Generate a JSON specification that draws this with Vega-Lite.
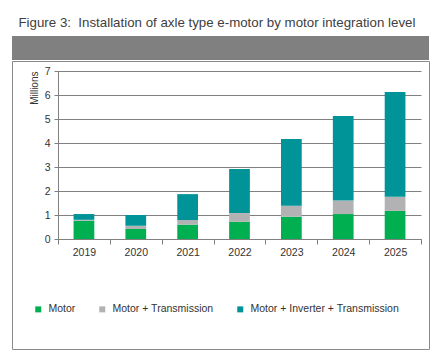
{
  "$schema": "https://vega.github.io/schema/vega-lite/v6.json",
  "padding": {"left": 11, "top": 15, "right": 0, "bottom": 0},
  "background": "white",
  "title": {
    "text": "Figure 3:\u00a0 Installation of axle type e-motor by motor integration level",
    "anchor": "start",
    "dx": 7,
    "offset": 7,
    "font": "Liberation Sans",
    "fontSize": 13.3,
    "fontWeight": "normal",
    "color": "#404040"
  },
  "spacing": 0,
  "vconcat": [
    {
      "width": 417,
      "height": 24,
      "view": {"fill": "#808080", "stroke": null},
      "data": {"values": [{}]},
      "mark": {"type": "point", "opacity": 0},
      "encoding": {}
    },
    {
      "width": 417,
      "height": 288,
      "view": {"fill": "white", "stroke": "#8a8a8a", "strokeWidth": 1},
      "data": {
        "values": [
          {"year": "2019", "type": "Motor", "rank": 0, "value": 0.76},
          {"year": "2019", "type": "Motor + Transmission", "rank": 1, "value": 0.04},
          {"year": "2019", "type": "Motor + Inverter + Transmission", "rank": 2, "value": 0.24},
          {"year": "2020", "type": "Motor", "rank": 0, "value": 0.42},
          {"year": "2020", "type": "Motor + Transmission", "rank": 1, "value": 0.13},
          {"year": "2020", "type": "Motor + Inverter + Transmission", "rank": 2, "value": 0.45},
          {"year": "2021", "type": "Motor", "rank": 0, "value": 0.6},
          {"year": "2021", "type": "Motor + Transmission", "rank": 1, "value": 0.19},
          {"year": "2021", "type": "Motor + Inverter + Transmission", "rank": 2, "value": 1.08},
          {"year": "2022", "type": "Motor", "rank": 0, "value": 0.72},
          {"year": "2022", "type": "Motor + Transmission", "rank": 1, "value": 0.36},
          {"year": "2022", "type": "Motor + Inverter + Transmission", "rank": 2, "value": 1.84},
          {"year": "2023", "type": "Motor", "rank": 0, "value": 0.93},
          {"year": "2023", "type": "Motor + Transmission", "rank": 1, "value": 0.46},
          {"year": "2023", "type": "Motor + Inverter + Transmission", "rank": 2, "value": 2.78},
          {"year": "2024", "type": "Motor", "rank": 0, "value": 1.04},
          {"year": "2024", "type": "Motor + Transmission", "rank": 1, "value": 0.56},
          {"year": "2024", "type": "Motor + Inverter + Transmission", "rank": 2, "value": 3.52},
          {"year": "2025", "type": "Motor", "rank": 0, "value": 1.17},
          {"year": "2025", "type": "Motor + Transmission", "rank": 1, "value": 0.59},
          {"year": "2025", "type": "Motor + Inverter + Transmission", "rank": 2, "value": 4.36}
        ]
      },
      "mark": {"type": "bar", "width": {"band": 0.4}},
      "encoding": {
        "x": {
          "field": "year",
          "type": "ordinal",
          "scale": {"range": [46, 409], "paddingInner": 0, "paddingOuter": 0},
          "axis": {
            "title": null,
            "offset": -110,
            "labelAngle": 0,
            "tickBand": "extent",
            "tickSize": 5,
            "labelPadding": 3,
            "domainColor": "#808080",
            "tickColor": "#808080",
            "labelFont": "Liberation Sans",
            "labelFontSize": 10.5,
            "labelColor": "#333333",
            "grid": false
          }
        },
        "y": {
          "field": "value",
          "type": "quantitative",
          "stack": "zero",
          "scale": {"domain": [0, 7], "range": [178, 10], "nice": false, "zero": true},
          "axis": {
            "title": "Millions",
            "titleAnchor": "end",
            "titleFont": "Liberation Sans",
            "titleFontSize": 10,
            "titleFontWeight": "normal",
            "titleColor": "#333333",
            "titlePadding": 5,
            "offset": -46,
            "values": [0, 1, 2, 3, 4, 5, 6, 7],
            "grid": true,
            "gridColor": "#808080",
            "gridWidth": 1,
            "domainColor": "#808080",
            "tickColor": "#808080",
            "tickSize": 4,
            "labelPadding": 4,
            "labelFont": "Liberation Sans",
            "labelFontSize": 10.5,
            "labelColor": "#333333"
          }
        },
        "color": {
          "field": "type",
          "type": "nominal",
          "scale": {
            "domain": ["Motor", "Motor + Transmission", "Motor + Inverter + Transmission"],
            "range": ["#00b050", "#b2b2b4", "#009499"]
          },
          "legend": {
            "title": null,
            "orient": "none",
            "direction": "horizontal",
            "legendX": 21,
            "legendY": 268,
            "symbolType": "square",
            "symbolSize": 36,
            "symbolStrokeWidth": 0,
            "labelFont": "Liberation Sans",
            "labelFontSize": 10.5,
            "labelColor": "#333333",
            "labelOffset": 5,
            "columnPadding": 21
          }
        },
        "order": {"field": "rank", "type": "quantitative"}
      }
    }
  ]
}
